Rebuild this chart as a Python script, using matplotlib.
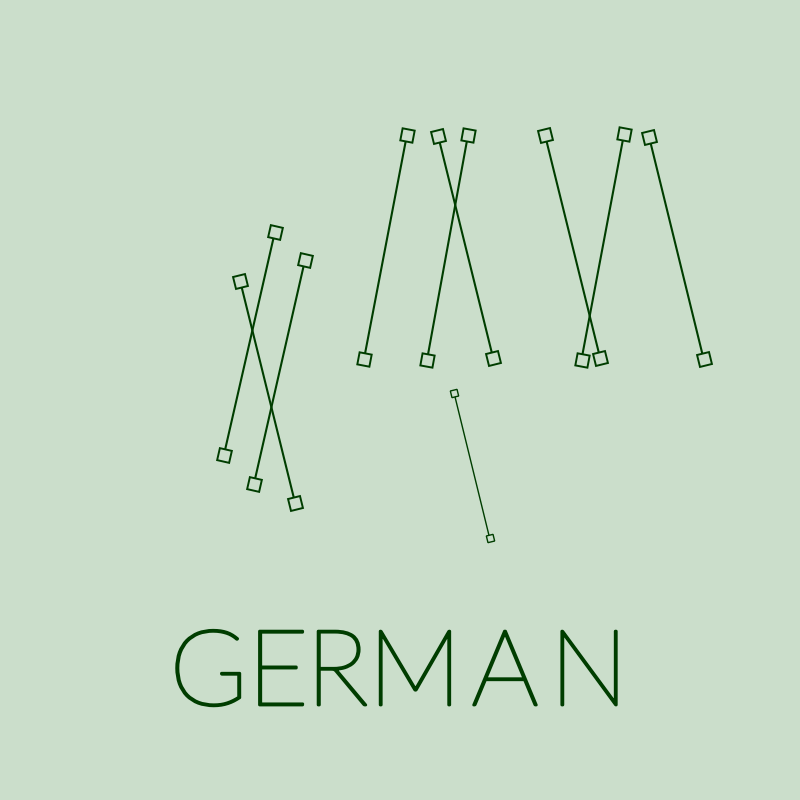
import numpy as np
import matplotlib
matplotlib.use("Agg")
import matplotlib.pyplot as plt
import matplotlib.patheffects as pe

# segment end points (canvas units, y grows downward)
x_top = [275, 240, 305, 407, 438, 468, 545, 624, 649]
y_top = [231.5, 280.5, 260, 134.5, 135.5, 135, 135, 134, 136.5]
x_bot = [224, 295, 254, 364, 493, 427, 600, 581.5, 703.5]
y_bot = [454.5, 502.5, 483.5, 359, 357.5, 360, 357.5, 359.5, 358.5]

# the small one below
small_top = (454, 392.7)
small_bot = (489.5, 537.5)

title = "GERMAN"
letter_x = [208.5, 278, 337, 415, 505, 589]

bg = "#cbdecb"
ink = "#003d00"


def seg(ax, x0, y0, x1, y1, ms, lw, mew):
    # rotate the square so one side is perpendicular to the line
    ang = np.degrees(np.arctan2(x1 - x0, y1 - y0))
    ax.plot([x0, x1], [y0, y1], color=ink, lw=lw, zorder=2,
            solid_capstyle="butt")
    for px, py in [(x0, y0), (x1, y1)]:
        ax.plot(px, py, marker=(4, 0, 45 + ang), ms=ms, mfc=bg, mec=ink,
                mew=mew, zorder=3, linestyle="none")


fig = plt.figure(figsize=(8, 8), dpi=100, facecolor=bg)
ax = fig.add_axes([0, 0, 1, 1])
ax.set_facecolor(bg)
ax.set_xlim(0, 800)
ax.set_ylim(800, 0)
ax.axis("off")

for i in range(len(x_top)):
    seg(ax, x_top[i], y_top[i], x_bot[i], y_bot[i], 12.5, 1.5, 1.4)

seg(ax, small_top[0], small_top[1], small_bot[0], small_bot[1], 7, 1.0, 1.0)

# thin font thickened a little with a stroke
for ch, lx in zip(title, letter_x):
    ax.text(lx, 705, ch, ha="center", va="baseline", color=ink,
            fontsize=76, fontweight="light", family=["Lato", "DejaVu Sans"],
            path_effects=[pe.withStroke(linewidth=2.0, foreground=ink)])

fig.savefig("out.png", dpi=100, facecolor=bg)
